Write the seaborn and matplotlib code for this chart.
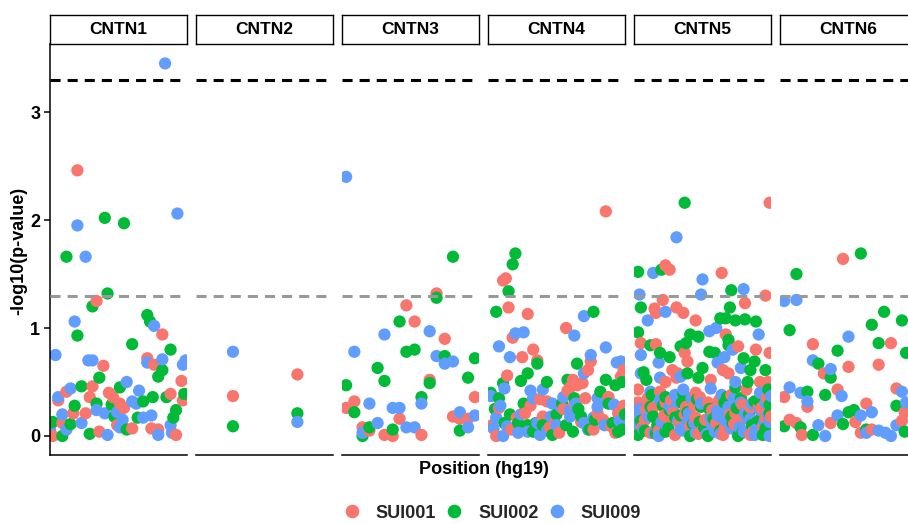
import pandas as pd
import matplotlib
matplotlib.use('Agg')
import matplotlib.pyplot as plt
from matplotlib.lines import Line2D
import seaborn as sns

genes = ['CNTN1', 'CNTN2', 'CNTN3', 'CNTN4', 'CNTN5', 'CNTN6']
samples = ['SUI001', 'SUI002', 'SUI009']
colors = ['#F8766D', '#00BA38', '#619CFF']

# posicao relativa dentro do gene (0-100) e -log10(p-value), por amostra
cntn1_sui001_pos = [20, 34, 39, 71, 76, 82, 96, 31, 12, 6, 29, 43, 46, 88, 97, 51, 54, 26, 17, 9, 92, 74, 79, 60, 49, 36, 2]
cntn1_sui001_val = [2.46, 1.25, 0.65, 0.72, 0.66, 0.94, 0.51, 0.46, 0.41, 0.33, 0.36, 0.40, 0.36, 0.39, 0.33, 0.30, 0.26, 0.21, 0.21, 0.12, 0.01, 0.07, 0.06, 0.07, 0.10, 0.04, 0.0]
cntn1_sui002_pos = [40, 54, 12, 42, 31, 20, 71, 73, 60, 88, 82, 79, 36, 51, 23, 75, 85, 98, 34, 45, 68, 18, 15, 2, 90, 92, 64, 56, 47, 29, 9]
cntn1_sui002_val = [2.02, 1.97, 1.66, 1.32, 1.20, 0.93, 1.12, 1.06, 0.85, 0.80, 0.61, 0.55, 0.54, 0.45, 0.46, 0.36, 0.36, 0.39, 0.30, 0.29, 0.32, 0.28, 0.11, 0.13, 0.17, 0.24, 0.17, 0.06, 0.18, 0.02, 0.0]
cntn1_sui009_pos = [84, 20, 93, 26, 18, 4, 28, 31, 76, 71, 82, 97, 99, 56, 65, 15, 6, 34, 40, 49, 60, 63, 9, 23, 88, 89, 79, 68, 74, 51, 53, 42, 0, 12]
cntn1_sui009_val = [3.45, 1.95, 2.06, 1.66, 1.06, 0.75, 0.70, 0.70, 1.02, 0.68, 0.71, 0.66, 0.70, 0.50, 0.42, 0.44, 0.36, 0.24, 0.21, 0.22, 0.32, 0.30, 0.20, 0.12, 0.10, 0.03, 0.01, 0.17, 0.19, 0.08, 0.15, 0.01, 0.06, 0.06]

cntn2_sui001_pos = [27, 74]
cntn2_sui001_val = [0.37, 0.57]
cntn2_sui002_pos = [27, 74]
cntn2_sui002_val = [0.09, 0.21]
cntn2_sui009_pos = [27, 74]
cntn2_sui009_val = [0.78, 0.13]

cntn3_sui001_pos = [69, 47, 53, 75, 64, 97, 3, 9, 42, 15, 20, 31, 37, 58, 81, 86, 92]
cntn3_sui001_val = [1.32, 1.21, 1.06, 0.90, 0.52, 0.36, 0.26, 0.32, 0.16, 0.08, 0.05, 0.01, 0.0, 0.01, 0.18, 0.16, 0.16]
cntn3_sui002_pos = [81, 69, 42, 47, 53, 75, 97, 26, 31, 64, 92, 3, 58, 9, 20, 15, 37, 86]
cntn3_sui002_val = [1.66, 1.28, 1.06, 0.78, 0.80, 0.74, 0.72, 0.63, 0.51, 0.49, 0.54, 0.47, 0.36, 0.22, 0.08, 0.0, 0.06, 0.05]
cntn3_sui009_pos = [3, 31, 64, 9, 69, 75, 81, 58, 20, 37, 42, 26, 15, 47, 53, 86, 92, 97]
cntn3_sui009_val = [2.40, 0.94, 0.97, 0.78, 0.74, 0.67, 0.69, 0.30, 0.30, 0.26, 0.26, 0.12, 0.03, 0.08, 0.08, 0.22, 0.08, 0.19]

cntn4_sui001_pos = [86, 11, 13, 15, 29, 57, 18, 33, 25, 36, 75, 73, 14, 62, 60, 65, 58, 69, 97, 99, 38, 43, 8, 6, 21, 27, 40, 49, 52, 68, 77, 80, 88, 95, 93,
                    3, 17, 31, 45, 55, 63, 71, 84, 90, 99]
cntn4_sui001_val = [2.08, 1.44, 1.46, 1.19, 1.13, 1.00, 0.91, 0.80, 0.73, 0.70, 0.69, 0.61, 0.56, 0.52, 0.45, 0.47, 0.42, 0.49, 0.55, 0.61, 0.34, 0.32, 0.26, 0.0, 0.17, 0.21, 0.18, 0.12, 0.03, 0.13, 0.06, 0.21, 0.36, 0.21, 0.03,
                    0.10, 0.06, 0.28, 0.08, 0.25, 0.30, 0.35, 0.15, 0.09, 0.28]
cntn4_sui002_pos = [20, 18, 15, 6, 77, 36, 65, 29, 24, 11, 43, 58, 86, 93, 98, 63, 8, 2, 12, 22, 29, 35, 40, 47, 57, 62, 68, 74, 82, 91, 95, 98,
                    5, 16, 26, 33, 50, 54, 66, 78, 88, 100]
cntn4_sui002_val = [1.69, 1.59, 1.34, 1.15, 1.15, 0.67, 0.67, 0.58, 0.51, 0.49, 0.50, 0.52, 0.52, 0.47, 0.50, 0.35, 0.35, 0.40, 0.12, 0.12, 0.10, 0.12, 0.10, 0.01, 0.10, 0.04, 0.18, 0.06, 0.41, 0.12, 0.04, 0.06,
                    0.25, 0.20, 0.30, 0.04, 0.20, 0.30, 0.25, 0.15, 0.30, 0.20]
cntn4_sui009_pos = [70, 20, 26, 8, 63, 16, 86, 75, 70, 97, 94, 12, 31, 40, 33, 47, 53, 55, 60, 2, 6, 11, 4, 22, 29, 38, 46, 60, 73, 80, 80, 87, 92, 85,
                    9, 14, 24, 36, 43, 50, 64, 70, 77, 96]
cntn4_sui009_val = [1.11, 0.95, 0.96, 0.83, 0.93, 0.73, 0.82, 0.75, 0.58, 0.69, 0.68, 0.44, 0.42, 0.43, 0.35, 0.30, 0.27, 0.36, 0.24, 0.37, 0.17, 0.0, 0.07, 0.03, 0.04, 0.01, 0.18, 0.18, 0.06, 0.27, 0.35, 0.31, 0.29, 0.10,
                    0.28, 0.09, 0.20, 0.12, 0.05, 0.10, 0.30, 0.12, 0.17, 0.14]

cntn5_sui001_pos = [99, 23, 26, 64, 96, 21, 81, 15, 16, 31, 36, 45, 67, 5, 16, 37, 39, 76, 89, 99, 28, 32, 65, 69, 23, 31, 56, 92, 98, 3, 19, 45, 82, 3, 23, 38, 54, 74, 85, 8, 25, 45, 60, 77, 96, 12, 30, 50, 65, 85,
                    2, 6, 10, 14, 18, 22, 27, 33, 37, 41, 44, 48, 52, 57, 62, 66, 70, 73, 79, 83, 87, 91, 94, 97, 100, 9, 29, 47, 71, 93]
cntn5_sui001_val = [2.16, 1.58, 1.54, 1.51, 1.30, 1.26, 1.23, 1.18, 1.14, 1.19, 1.14, 1.07, 0.94, 0.86, 0.85, 0.77, 0.69, 0.83, 0.80, 0.77, 0.61, 0.58, 0.61, 0.58, 0.50, 0.54, 0.52, 0.50, 0.50, 0.43, 0.41, 0.40, 0.43, 0.31, 0.31, 0.27, 0.31, 0.21, 0.26, 0.15, 0.17, 0.17, 0.12, 0.13, 0.17, 0.03, 0.01, 0.06, 0.01, 0.01,
                    0.22, 0.08, 0.35, 0.26, 0.05, 0.19, 0.33, 0.12, 0.20, 0.09, 0.28, 0.36, 0.15, 0.24, 0.33, 0.07, 0.20, 0.11, 0.29, 0.16, 0.04, 0.27, 0.09, 0.35, 0.18, 0.25, 0.22, 0.02, 0.38, 0.26]
cntn5_sui002_pos = [37, 20, 3, 71, 5, 70, 63, 67, 74, 81, 89, 3, 41, 47, 38, 34, 69, 69, 12, 19, 26, 55, 59, 80, 88, 7, 39, 50, 85, 96, 9, 47, 83, 23, 74, 98, 12, 26, 49, 66, 91, 99, 14, 34, 48, 71, 89, 3, 23, 41, 54, 76, 94,
                    1, 5, 8, 13, 17, 21, 25, 30, 35, 39, 43, 46, 51, 55, 58, 63, 68, 72, 75, 79, 84, 88, 92, 96, 99, 16, 36, 61, 78, 86]
cntn5_sui002_val = [2.16, 1.54, 1.52, 1.35, 1.19, 1.19, 1.09, 1.09, 1.07, 1.08, 1.06, 0.96, 0.94, 0.92, 0.86, 0.83, 0.89, 0.84, 0.84, 0.77, 0.73, 0.78, 0.77, 0.72, 0.69, 0.59, 0.58, 0.63, 0.61, 0.61, 0.52, 0.54, 0.50, 0.36, 0.45, 0.43, 0.27, 0.24, 0.27, 0.31, 0.33, 0.21, 0.18, 0.19, 0.13, 0.18, 0.12, 0.01, 0.04, 0.0, 0.0, 0.0, 0.01,
                    0.30, 0.14, 0.05, 0.38, 0.10, 0.28, 0.07, 0.17, 0.31, 0.22, 0.11, 0.34, 0.08, 0.25, 0.16, 0.05, 0.36, 0.12, 0.26, 0.03, 0.20, 0.32, 0.15, 0.07, 0.29, 0.02, 0.39, 0.21, 0.35, 0.10]
cntn5_sui009_pos = [31, 14, 50, 49, 80, 4, 23, 10, 55, 60, 91, 5, 66, 61, 72, 18, 5, 78, 19, 34, 74, 12, 30, 36, 56, 64, 92, 32, 43, 61, 69, 78, 96, 3, 20, 39, 56, 66, 83, 99, 7, 18, 34, 45, 59, 71, 80, 89, 99,
                    0, 4, 11, 15, 19, 24, 28, 32, 36, 40, 44, 49, 53, 57, 61, 65, 69, 73, 77, 81, 85, 88, 92, 95, 100, 26, 42, 63, 86, 98]
cntn5_sui009_val = [1.84, 1.51, 1.45, 1.31, 1.36, 1.31, 1.15, 1.07, 0.97, 1.00, 0.94, 0.75, 0.73, 0.68, 0.80, 0.68, 0.58, 0.63, 0.54, 0.55, 0.50, 0.41, 0.38, 0.43, 0.44, 0.38, 0.40, 0.31, 0.33, 0.24, 0.27, 0.31, 0.31, 0.18, 0.13, 0.13, 0.17, 0.15, 0.17, 0.13, 0.06, 0.0, 0.06, 0.03, 0.04, 0.07, 0.04, 0.06, 0.0,
                    0.11, 0.25, 0.18, 0.03, 0.33, 0.09, 0.24, 0.14, 0.05, 0.21, 0.12, 0.30, 0.02, 0.10, 0.19, 0.26, 0.13, 0.35, 0.08, 0.21, 0.16, 0.01, 0.24, 0.13, 0.37, 0.28, 0.35, 0.02, 0.30, 0.20]

cntn6_sui001_pos = [46, 24, 81, 50, 72, 32, 3, 20, 42, 85, 91, 63, 55, 37, 7, 12, 16, 59, 67, 89]
cntn6_sui001_val = [1.64, 0.85, 0.86, 0.64, 0.66, 0.58, 0.36, 0.27, 0.43, 0.44, 0.22, 0.30, 0.13, 0.12, 0.15, 0.12, 0.01, 0.03, 0.06, 0.14]
cntn6_sui002_pos = [59, 12, 76, 89, 67, 7, 72, 92, 42, 28, 37, 20, 33, 85, 50, 54, 46, 15, 3, 24, 63, 91]
cntn6_sui002_val = [1.69, 1.50, 1.15, 1.07, 1.03, 0.98, 0.86, 0.77, 0.79, 0.67, 0.54, 0.41, 0.38, 0.28, 0.22, 0.24, 0.11, 0.08, 0.09, 0.01, 0.06, 0.04]
cntn6_sui009_pos = [3, 12, 50, 24, 37, 7, 15, 20, 45, 89, 92, 67, 59, 42, 28, 33, 63, 72, 77, 81, 85]
cntn6_sui009_val = [1.25, 1.26, 0.92, 0.70, 0.62, 0.45, 0.40, 0.32, 0.37, 0.41, 0.31, 0.22, 0.19, 0.19, 0.10, 0.0, 0.03, 0.05, 0.03, 0.0, 0.10]

series = [
    ('CNTN1', 'SUI001', cntn1_sui001_pos, cntn1_sui001_val),
    ('CNTN1', 'SUI002', cntn1_sui002_pos, cntn1_sui002_val),
    ('CNTN1', 'SUI009', cntn1_sui009_pos, cntn1_sui009_val),
    ('CNTN2', 'SUI001', cntn2_sui001_pos, cntn2_sui001_val),
    ('CNTN2', 'SUI002', cntn2_sui002_pos, cntn2_sui002_val),
    ('CNTN2', 'SUI009', cntn2_sui009_pos, cntn2_sui009_val),
    ('CNTN3', 'SUI001', cntn3_sui001_pos, cntn3_sui001_val),
    ('CNTN3', 'SUI002', cntn3_sui002_pos, cntn3_sui002_val),
    ('CNTN3', 'SUI009', cntn3_sui009_pos, cntn3_sui009_val),
    ('CNTN4', 'SUI001', cntn4_sui001_pos, cntn4_sui001_val),
    ('CNTN4', 'SUI002', cntn4_sui002_pos, cntn4_sui002_val),
    ('CNTN4', 'SUI009', cntn4_sui009_pos, cntn4_sui009_val),
    ('CNTN5', 'SUI001', cntn5_sui001_pos, cntn5_sui001_val),
    ('CNTN5', 'SUI002', cntn5_sui002_pos, cntn5_sui002_val),
    ('CNTN5', 'SUI009', cntn5_sui009_pos, cntn5_sui009_val),
    ('CNTN6', 'SUI001', cntn6_sui001_pos, cntn6_sui001_val),
    ('CNTN6', 'SUI002', cntn6_sui002_pos, cntn6_sui002_val),
    ('CNTN6', 'SUI009', cntn6_sui009_pos, cntn6_sui009_val),
]

frames = []
for gene, sample, pos, val in series:
    frames.append(pd.DataFrame({'gene': gene, 'sample': sample, 'pos': pos, 'logp': val}))
df = pd.concat(frames, ignore_index=True)
# ordena pela posicao para misturar as cores como no grafico original
df = df.sort_values(['gene', 'pos'], kind='stable')

sns.set_style('white')
plt.rcParams['font.family'] = ['Liberation Sans', 'DejaVu Sans']

W, H = 908, 524
fig = plt.figure(figsize=(W / 100, H / 100), dpi=100)

panel_left = 50
panel_step = 146
panel_w = 137
panel_top = 44
panel_bottom = 455
strip_top = 15
ymin, ymax = -0.176, 3.63

for i, gene in enumerate(genes):
    left = panel_left + i * panel_step
    ax = fig.add_axes([left / W, 1 - panel_bottom / H, panel_w / W, (panel_bottom - panel_top) / H])
    sub = df[df['gene'] == gene]
    sns.scatterplot(data=sub, x='pos', y='logp', hue='sample', hue_order=samples,
                    palette=colors, s=78, linewidth=0, alpha=1, legend=False, ax=ax)
    ax.axhline(3.3, color='black', lw=2.2, ls=(0, (3.3, 2.3)), zorder=3)
    ax.axhline(1.3, color='#999999', lw=2.2, ls=(0, (3.3, 2.3)), zorder=3)
    ax.set_xlim(0, 100)
    ax.set_ylim(ymin, ymax)
    ax.set_xlabel('')
    ax.set_ylabel('')
    ax.set_xticks([])
    for side in ['top', 'right']:
        ax.spines[side].set_visible(False)
    ax.spines['bottom'].set_color('black')
    ax.spines['bottom'].set_linewidth(1.1)
    if i == 0:
        ax.spines['left'].set_color('black')
        ax.spines['left'].set_linewidth(1.1)
        ax.set_yticks([0, 1, 2, 3])
        ax.tick_params(axis='y', left=True, length=4, width=1.1, color='black', pad=3)
        for lab in ax.get_yticklabels():
            lab.set_fontweight('bold')
            lab.set_fontsize(13)
            lab.set_color('black')
    else:
        ax.spines['left'].set_visible(False)
        ax.set_yticks([])

    # faixa com o nome do gene
    sax = fig.add_axes([left / W, 1 - panel_top / H, panel_w / W, (panel_top - strip_top) / H])
    sax.set_xticks([])
    sax.set_yticks([])
    for sp in sax.spines.values():
        sp.set_visible(True)
        sp.set_color('black')
        sp.set_linewidth(1.0)
    sax.text(0.5, 0.5, gene, ha='center', va='center', fontsize=12.5,
             fontweight='bold', color='black', transform=sax.transAxes)

fig.text(19 / W, 1 - 251 / H, '-log10(p-value)', rotation=90, ha='center', va='center',
         fontsize=13, fontweight='bold', color='black')
fig.text(484 / W, 1 - 470 / H, 'Position (hg19)', ha='center', va='center',
         fontsize=13, fontweight='bold', color='black')

handles = [Line2D([], [], marker='o', ls='', color=c, markersize=8.8) for c in colors]
fig.legend(handles, samples, loc='center left', bbox_to_anchor=(334 / W, 1 - 513 / H),
           ncol=3, frameon=False, borderpad=0, handlelength=1, handletextpad=0.82,
           columnspacing=0.5, prop={'weight': 'bold', 'size': 13})

plt.savefig('out.png', dpi=100)
